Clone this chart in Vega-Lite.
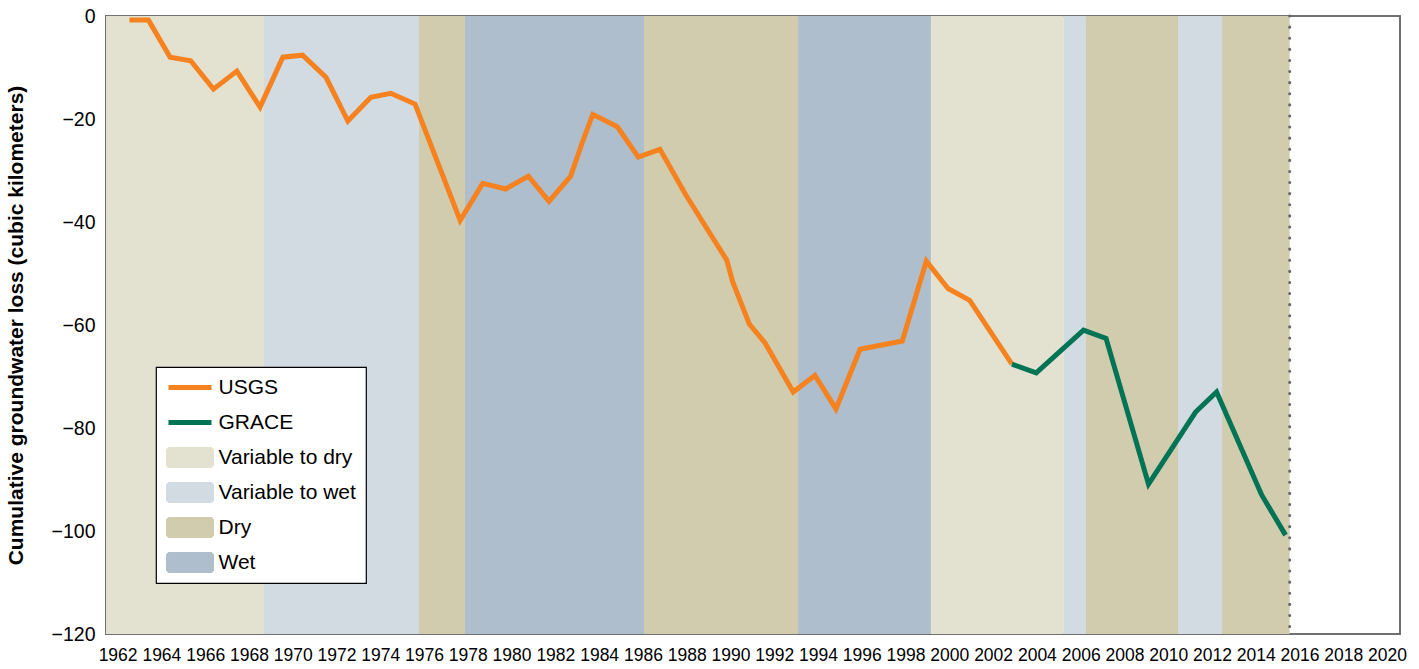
{
  "$schema": "https://vega.github.io/schema/vega-lite/v6.json",
  "width": 1294,
  "height": 618,
  "autosize": {"type": "none"},
  "padding": {"left": 106, "top": 16, "right": 19, "bottom": 35},
  "background": "white",
  "config": {
    "view": {"stroke": "#707070", "strokeWidth": 2},
    "font": "Liberation Sans"
  },
  "datasets": {
    "bands": [
      {"start": 1961.47, "end": 1968.69, "period": "Variable to dry"},
      {"start": 1968.69, "end": 1975.77, "period": "Variable to wet"},
      {"start": 1975.77, "end": 1977.87, "period": "Dry"},
      {"start": 1977.87, "end": 1986.05, "period": "Wet"},
      {"start": 1986.05, "end": 1993.09, "period": "Dry"},
      {"start": 1993.09, "end": 1999.16, "period": "Wet"},
      {"start": 1999.16, "end": 2005.23, "period": "Variable to dry"},
      {"start": 2005.23, "end": 2006.24, "period": "Variable to wet"},
      {"start": 2006.24, "end": 2010.45, "period": "Dry"},
      {"start": 2010.45, "end": 2012.46, "period": "Variable to wet"},
      {"start": 2012.46, "end": 2015.55, "period": "Dry"}
    ],
    "recordEnd": [{"year": 2015.55}],
    "loss": [
      {"year": 1962.54, "loss": -0.8, "series": "USGS"},
      {"year": 1963.41, "loss": -0.8, "series": "USGS"},
      {"year": 1964.4, "loss": -8.0, "series": "USGS"},
      {"year": 1965.34, "loss": -8.7, "series": "USGS"},
      {"year": 1966.38, "loss": -14.2, "series": "USGS"},
      {"year": 1967.45, "loss": -10.7, "series": "USGS"},
      {"year": 1968.51, "loss": -17.7, "series": "USGS"},
      {"year": 1969.55, "loss": -8.0, "series": "USGS"},
      {"year": 1970.45, "loss": -7.6, "series": "USGS"},
      {"year": 1971.52, "loss": -11.9, "series": "USGS"},
      {"year": 1972.52, "loss": -20.4, "series": "USGS"},
      {"year": 1973.57, "loss": -15.8, "series": "USGS"},
      {"year": 1974.48, "loss": -15.0, "series": "USGS"},
      {"year": 1975.59, "loss": -17.1, "series": "USGS"},
      {"year": 1977.65, "loss": -39.7, "series": "USGS"},
      {"year": 1978.68, "loss": -32.5, "series": "USGS"},
      {"year": 1979.73, "loss": -33.6, "series": "USGS"},
      {"year": 1980.77, "loss": -31.1, "series": "USGS"},
      {"year": 1981.71, "loss": -36.0, "series": "USGS"},
      {"year": 1982.7, "loss": -31.1, "series": "USGS"},
      {"year": 1983.21, "loss": -24.8, "series": "USGS"},
      {"year": 1983.71, "loss": -19.1, "series": "USGS"},
      {"year": 1984.83, "loss": -21.5, "series": "USGS"},
      {"year": 1985.79, "loss": -27.4, "series": "USGS"},
      {"year": 1986.78, "loss": -25.9, "series": "USGS"},
      {"year": 1987.97, "loss": -34.8, "series": "USGS"},
      {"year": 1989.83, "loss": -47.4, "series": "USGS"},
      {"year": 1990.1, "loss": -51.6, "series": "USGS"},
      {"year": 1990.86, "loss": -59.8, "series": "USGS"},
      {"year": 1991.58, "loss": -63.5, "series": "USGS"},
      {"year": 1992.87, "loss": -73.0, "series": "USGS"},
      {"year": 1993.86, "loss": -69.8, "series": "USGS"},
      {"year": 1994.82, "loss": -76.3, "series": "USGS"},
      {"year": 1995.92, "loss": -64.7, "series": "USGS"},
      {"year": 1997.85, "loss": -63.1, "series": "USGS"},
      {"year": 1998.95, "loss": -47.6, "series": "USGS"},
      {"year": 1999.94, "loss": -52.9, "series": "USGS"},
      {"year": 2000.93, "loss": -55.2, "series": "USGS"},
      {"year": 2002.86, "loss": -67.6, "series": "USGS"},
      {"year": 2002.86, "loss": -67.6, "series": "GRACE"},
      {"year": 2003.97, "loss": -69.3, "series": "GRACE"},
      {"year": 2006.13, "loss": -61.0, "series": "GRACE"},
      {"year": 2007.16, "loss": -62.6, "series": "GRACE"},
      {"year": 2009.1, "loss": -90.9, "series": "GRACE"},
      {"year": 2011.25, "loss": -76.9, "series": "GRACE"},
      {"year": 2012.21, "loss": -73.0, "series": "GRACE"},
      {"year": 2014.27, "loss": -93.0, "series": "GRACE"},
      {"year": 2015.36, "loss": -100.8, "series": "GRACE"}
    ]
  },
  "layer": [
    {
      "data": {"name": "bands"},
      "mark": {"type": "rect"},
      "encoding": {
        "x": {
          "field": "start",
          "type": "quantitative",
          "scale": {"domain": [1961.47, 2020.59], "nice": false, "zero": false},
          "axis": {
            "title": null,
            "values": [1962, 1964, 1966, 1968, 1970, 1972, 1974, 1976, 1978, 1980, 1982, 1984, 1986, 1988, 1990, 1992, 1994, 1996, 1998, 2000, 2002, 2004, 2006, 2008, 2010, 2012, 2014, 2016, 2018, 2020],
            "format": "d",
            "labelFont": "Liberation Sans",
            "labelFontSize": 17.5,
            "labelColor": "#000000",
            "labelPadding": 12,
            "ticks": false,
            "domain": false,
            "grid": false,
            "labelOverlap": false,
            "labelFlush": false
          }
        },
        "x2": {"field": "end"},
        "color": {
          "field": "period",
          "type": "nominal",
          "scale": {
            "domain": ["USGS", "GRACE", "Variable to dry", "Variable to wet", "Dry", "Wet"],
            "range": ["#f5821f", "#007455", "#e3e2d1", "#d2dae2", "#d1ccae", "#aebecc"]
          },
          "legend": {
            "title": null,
            "orient": "none",
            "legendX": 50,
            "legendY": 351,
            "padding": 10,
            "rowPadding": 13,
            "labelFont": "Liberation Sans",
            "labelFontSize": 21,
            "labelColor": "#000000",
            "labelOffset": 18,
            "labelLimit": 300,
            "symbolSize": 256,
            "symbolOffset": 13.5,
            "symbolStrokeWidth": 5,
            "symbolOpacity": 1,
            "encode": {
              "legend": {
                "update": {
                  "fill": {"value": "#ffffff"},
                  "stroke": {"value": "#000000"},
                  "strokeWidth": {"value": 1.2}
                }
              },
              "symbols": {
                "update": {
                  "shape": {"signal": "(datum.value === 'USGS' || datum.value === 'GRACE') ? 'M-2.69,0H2.69' : 'M-2.69,-1H2.69V1H-2.69Z'"},
                  "fill": {"signal": "(datum.value === 'USGS' || datum.value === 'GRACE') ? null : scale('color', datum.value)"},
                  "stroke": {"signal": "(datum.value === 'USGS' || datum.value === 'GRACE') ? scale('color', datum.value) : null"},
                  "strokeWidth": {"value": 5},
                  "strokeJoin": {"value": "bevel"},
                  "strokeCap": {"value": "butt"},
                  "size": {"value": 256},
                  "opacity": {"value": 1}
                }
              }
            }
          }
        }
      }
    },
    {
      "data": {"name": "recordEnd"},
      "mark": {"type": "rule", "color": "#666666", "strokeWidth": 3, "strokeDash": [0.1, 11], "strokeCap": "round"},
      "encoding": {
        "x": {"field": "year", "type": "quantitative"}
      }
    },
    {
      "data": {"name": "loss"},
      "mark": {"type": "line", "strokeWidth": 5, "strokeJoin": "miter"},
      "encoding": {
        "x": {"field": "year", "type": "quantitative"},
        "y": {
          "field": "loss",
          "type": "quantitative",
          "scale": {"domain": [-120, 0], "nice": false},
          "axis": {
            "title": "Cumulative groundwater loss (cubic kilometers)",
            "values": [-120, -100, -80, -60, -40, -20, 0],
            "labelExpr": "datum.value < 0 ? '\u2212' + abs(datum.value) : datum.label",
            "labelFont": "Liberation Sans",
            "labelFontSize": 19.5,
            "labelColor": "#000000",
            "labelPadding": 11,
            "ticks": false,
            "domain": false,
            "grid": false,
            "titleFont": "Liberation Sans",
            "titleFontSize": 21,
            "titleFontWeight": "bold",
            "titleColor": "#000000",
            "titlePadding": 25
          }
        },
        "color": {"field": "series", "type": "nominal"}
      }
    }
  ]
}
